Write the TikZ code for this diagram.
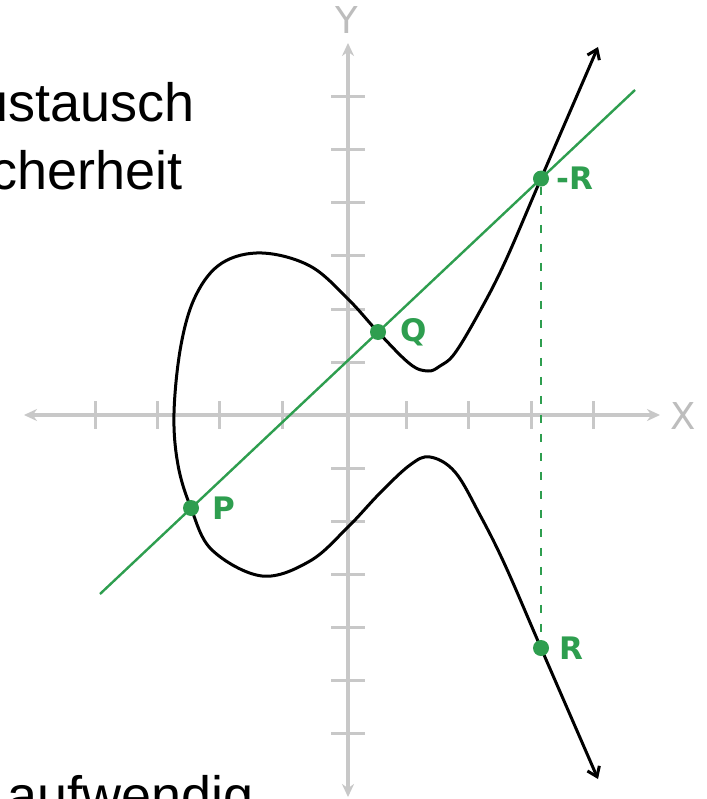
\documentclass[tikz,border=0pt]{standalone}
\usepackage{fontspec}
\setmainfont{Liberation Sans}
\newfontfamily\dejavu{DejaVu Sans}
\usetikzlibrary{arrows.meta, positioning}
\definecolor{gruen}{HTML}{2E9E4F}
\definecolor{achsgrau}{HTML}{C8C8C8}
\definecolor{achstext}{HTML}{BDBDBD}

\begin{document}
\begin{tikzpicture}[
  x=1pt, y=-1pt,
  folie/.style={font=\fontsize{54}{60}\selectfont, inner sep=0pt},
  achse/.style={achsgrau, line width=3.5pt,
    {Stealth[length=13pt, width=12pt]}-{Stealth[length=13pt, width=12pt]}},
  strich/.style={achsgrau, line width=3pt},
  achsname/.style={achstext, font=\fontsize{37}{40}\selectfont\dejavu, inner sep=0pt},
  kurve/.style={black, line width=3pt,
    {Straight Barb[length=9pt, width=13pt]}-{Straight Barb[length=9pt, width=13pt]}},
  gerade/.style={gruen, line width=2.4pt},
  senkrecht/.style={gruen, line width=2.8pt, dash pattern=on 8pt off 11pt},
  punkt/.style={circle, fill=gruen, inner sep=0pt, minimum size=16pt},
  beschr/.style={gruen, font=\fontsize{31}{33}\selectfont\dejavu\bfseries, inner sep=0pt},
]

% Rahmen
\clip (0,0) rectangle (706,799);
\fill[white] (0,0) rectangle (706,799);

% Folientext (angeschnitten)
\node[folie, anchor=base east] (zeile1) at (195,122) {ustausch};
\node[folie, anchor=base east] (zeile2) at (183,190) {cherheit};
\node[folie, anchor=base west] (zeile3) at (7,814) {aufwendig};

% Achsen
\coordinate (xlinks) at (24,415);
\coordinate (xrechts) at (660,415);
\coordinate (yunten) at (348,797);
\coordinate (yoben) at (348,43);
\draw[achse] (xlinks) -- (xrechts);
\draw[achse] (yunten) -- (yoben);
\foreach \x in {95,157,219,282,406,468,531,593}
  \draw[strich] (\x,401) -- ++(0,28);
\foreach \i in {1,...,6} {
  \draw[strich] (331,{415-53*\i}) -- ++(34,0);
  \draw[strich] (331,{415+53*\i}) -- ++(34,0);
}
\node[achsname] (xname) at (683,416) {X};
\node[achsname] (yname) at (347,20) {Y};

% Kurve
\draw[kurve] plot[smooth, tension=0.6] coordinates {
  (598,47) (541,178.6) (505,262) (480,311) (455,353)
  (440,366) (428,371) (410,364) (378,332) (348,299) (310,266) (262,253)
  (222,263) (196,295) (181,345) (174,413) (178,465) (191,508) (212,550)
  (262,576) (310,561) (348,527) (380,493) (410,465) (430,457) (455,472)
  (480,515) (505,565) (541,648) (598,779)};

% Gerade durch P und Q
\coordinate (glinks) at (100,594);
\coordinate (grechts) at (635,90);
\draw[gerade] (glinks) -- (grechts);

% Punkte
\node[punkt] (P) at (191,508) {};
\node[punkt] (Q) at (378,332) {};
\node[punkt] (mR) at (541,178.6) {};
\node[punkt] (R) at (541,648) {};
\draw[senkrecht] (mR) -- (R);

\node[beschr, right=13pt of P] (lP) {P};
\node[beschr, right=14pt of Q] (lQ) {Q};
\node[beschr, right=7pt of mR] (lmR) {-R};
\node[beschr, right=10pt of R] (lR) {R};

\end{tikzpicture}
\end{document}
